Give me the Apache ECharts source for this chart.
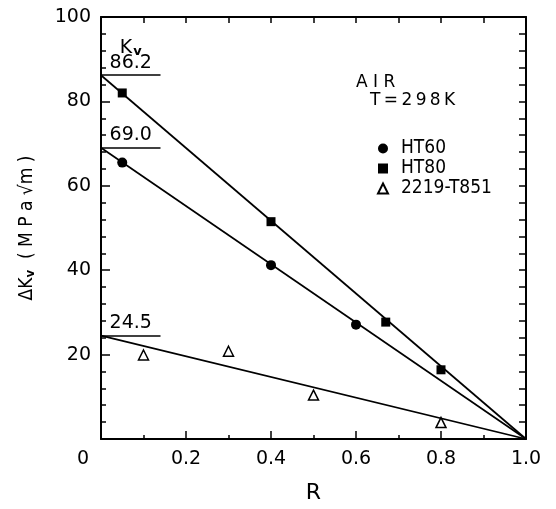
<!DOCTYPE html>
<html>
<head>
<meta charset="utf-8">
<script src="https://cdn.jsdelivr.net/npm/echarts@6/dist/echarts.min.js"></script>
<style>
  html, body { margin: 0; padding: 0; background: #fff; }
  #chart { width: 556px; height: 509px; }
</style>
</head>
<body>
<div id="chart"></div>
<script>
// data
const ht60 = [[0.05, 65.5], [0.40, 41.2], [0.60, 27.1]];
const ht80 = [[0.05, 82.0], [0.40, 51.5], [0.67, 27.7], [0.80, 16.4]];
const t851 = [[0.10, 19.9], [0.30, 20.8], [0.50, 10.4], [0.80, 3.9]];
// Kv intercepts of the fitted lines (all go to zero at R = 1.0)
const kvValues = [86.2, 69.0, 24.5];
const kvLabels = ['86.2', '69.0', '24.5'];
const seriesNames = ['HT60', 'HT80', '2219-T851'];

const font = '"DejaVu Sans", sans-serif';
const fontCond = '"DejaVu Sans Condensed", "DejaVu Sans", sans-serif';
const segEnd = 0.14;

let chart = echarts.init(document.getElementById('chart'));

let fitSeries = kvValues.map(function (kv, i) {
    return {
        name: 'fit' + i,
        type: 'line',
        data: [[0, kv], [1, 0]],
        symbol: 'none',
        silent: true,
        lineStyle: { color: '#000', width: 1.7 },
        markLine: {
            silent: true,
            symbol: 'none',
            lineStyle: { color: '#000', width: 1.7, type: 'solid' },
            label: {
                show: true,
                position: 'insideMiddleTop',
                distance: 3,
                color: '#000',
                fontFamily: font,
                fontSize: 19,
                formatter: kvLabels[i]
            },
            data: [[{ coord: [0, kv] }, { coord: [segEnd, kv] }]]
        }
    };
});

let option = {
    animation: false,
    grid: { left: 101, right: 30, top: 17, bottom: 67 },
    legend: {
        data: seriesNames,
        orient: 'vertical',
        left: 372,
        top: 134,
        itemWidth: 10,
        itemHeight: 10,
        itemGap: 1,
        textStyle: { color: '#000', fontFamily: fontCond, fontSize: 19, lineHeight: 19, padding: [0, 0, 0, 8] }
    },
    graphic: [
        { type: 'text', left: 356, top: 74, style: { text: 'A I R', font: '17px ' + font, fill: '#000' } },
        { type: 'text', left: 370, top: 92, style: { text: 'T\u2009=\u20092\u20099\u20098\u2009K', font: '17px ' + font, fill: '#000' } }
    ],
    xAxis: [
        {
            type: 'value', min: 0, max: 1, interval: 0.2,
            name: 'R', nameLocation: 'middle', nameGap: 43,
            nameTextStyle: { color: '#000', fontFamily: font, fontSize: 22 },
            axisLine: { onZero: false, lineStyle: { color: '#000', width: 2 } },
            axisTick: { inside: true, length: 8, lineStyle: { color: '#000', width: 1.5 } },
            minorTick: { show: true, splitNumber: 2, length: 4, lineStyle: { color: '#000', width: 1.5 } },
            splitLine: { show: false },
            axisLabel: {
                color: '#000', fontFamily: font, fontSize: 19, margin: 11,
                formatter: function (v) { return v === 0 ? '{z|0}' : v.toFixed(1); },
                rich: { z: { fontFamily: font, fontSize: 19, color: '#000', padding: [0, 36, 0, 0] } }
            }
        },
        {
            type: 'value', min: 0, max: 1, interval: 0.1, position: 'top',
            axisLine: { show: true, onZero: false, lineStyle: { color: '#000', width: 2 } },
            axisTick: { show: true, inside: true, length: 6, lineStyle: { color: '#000', width: 1.5 } },
            axisLabel: { show: false },
            splitLine: { show: false }
        }
    ],
    yAxis: [
        {
            type: 'value', min: 0, max: 100, interval: 20,
            name: '{a|\u0394K}{b|v}{a|  ( M P a \u221Am )}',
            nameLocation: 'middle', nameGap: 64, nameRotate: 90,
            nameTextStyle: {
                color: '#000',
                rich: {
                    a: { fontFamily: fontCond, fontSize: 19, color: '#000' },
                    b: { fontFamily: fontCond, fontSize: 13, color: '#000', fontWeight: 'bold', padding: [7, 0, 0, 0] }
                }
            },
            axisLine: { onZero: false, lineStyle: { color: '#000', width: 2 } },
            axisTick: { inside: true, length: 9, lineStyle: { color: '#000', width: 1.5 } },
            minorTick: { show: true, splitNumber: 5, length: 5, lineStyle: { color: '#000', width: 1.5 } },
            splitLine: { show: false },
            axisLabel: { color: '#000', fontFamily: font, fontSize: 19, margin: 10, showMinLabel: false }
        },
        {
            type: 'value', min: 0, max: 100, interval: 4, position: 'right',
            axisLine: { show: true, onZero: false, lineStyle: { color: '#000', width: 2 } },
            axisTick: { show: true, inside: true, length: 7, lineStyle: { color: '#000', width: 1.5 } },
            axisLabel: { show: false },
            splitLine: { show: false }
        }
    ],
    series: fitSeries.concat([
        {
            name: 'Kv',
            type: 'scatter',
            data: [[0.07, 92.6]],
            symbolSize: 0,
            silent: true,
            itemStyle: { opacity: 1 },
            label: {
                show: true,
                position: 'inside',
                opacity: 1,
                formatter: '{k|K}{v|v}',
                rich: {
                    k: { fontFamily: font, fontSize: 19, color: '#000' },
                    v: { fontFamily: font, fontSize: 13, color: '#000', fontWeight: 'bold', padding: [7, 0, 0, 1] }
                }
            }
        },
        {
            name: seriesNames[0],
            type: 'scatter',
            data: ht60,
            symbol: 'circle',
            symbolSize: 10,
            itemStyle: { color: '#000', opacity: 1 }
        },
        {
            name: seriesNames[1],
            type: 'scatter',
            data: ht80,
            symbol: 'rect',
            symbolSize: 9,
            itemStyle: { color: '#000', opacity: 1 }
        },
        {
            name: seriesNames[2],
            type: 'scatter',
            data: t851,
            symbol: 'triangle',
            symbolSize: 10,
            itemStyle: { color: '#fff', borderColor: '#000', borderWidth: 1.5, opacity: 1 }
        }
    ])
};
chart.setOption(option);
</script>
</body>
</html>
